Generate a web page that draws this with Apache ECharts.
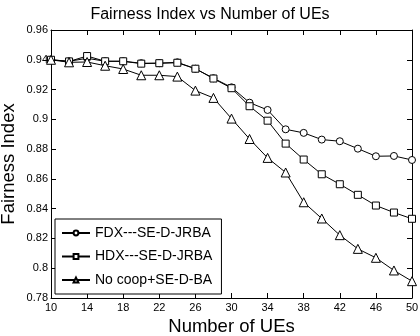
<!DOCTYPE html>
<html>
<head>
<meta charset="utf-8">
<script src="https://cdn.jsdelivr.net/npm/echarts@6/dist/echarts.min.js"></script>
<style>
  html, body { margin: 0; padding: 0; background: #fff; }
  #chart { width: 420px; height: 336px; }
</style>
</head>
<body>
<div id="chart"></div>
<script>
// number of UEs (x axis categories)
const ues = ['10','12','14','16','18','20','22','24','26','28','30','32','34','36','38','40','42','44','46','48','50']
// fairness index per scheme
const fdx = [0.940,0.939,0.941,0.939,0.939,0.9377,0.9377,0.9383,0.934,0.9276,0.9215,0.9112,0.9063,0.8933,0.8909,0.8864,0.8853,0.8803,0.8752,0.8754,0.8727]
const hdx = [0.940,0.9389,0.9425,0.939,0.939,0.9374,0.9377,0.938,0.934,0.9274,0.9209,0.9088,0.8991,0.8837,0.873,0.8631,0.8564,0.8493,0.8421,0.8374,0.8332]
const nocoop = [0.940,0.9383,0.9385,0.936,0.9338,0.9296,0.9296,0.9287,0.9193,0.9144,0.9005,0.8868,0.8741,0.8643,0.8443,0.8334,0.8222,0.813,0.807,0.7985,0.7913]
const names = ['FDX---SE-D-JRBA','HDX---SE-D-JRBA','No coop+SE-D-BA']

const font = 'Liberation Sans, Arial, sans-serif'
const chart = echarts.init(document.getElementById('chart'))

const mkSeries = (name, data, symbol, size) => ({
  name: name,
  type: 'line',
  data: data,
  symbol: symbol,
  symbolSize: size,
  lineStyle: { color: '#000', width: 1 },
  itemStyle: { color: '#fff', borderColor: '#000', borderWidth: 1 },
  animation: false
})

const axLine = { show: true, lineStyle: { color: '#000', width: 1 } }
const ticks = { show: true, inside: true, length: 5, lineStyle: { color: '#000' } }

chart.setOption({
  backgroundColor: '#fff',
  title: {
    text: 'Fairness Index vs Number of UEs',
    left: 'center',
    top: 2,
    textStyle: { fontFamily: font, fontSize: 16, fontWeight: 'normal', color: '#000' }
  },
  legend: {
    orient: 'vertical',
    left: 55,
    top: 219,
    itemWidth: 28,
    itemHeight: 6,
    itemGap: 9.5,
    padding: [7, 9, 7, 6],
    borderColor: '#000',
    borderWidth: 1,
    backgroundColor: '#fff',
    textStyle: { fontFamily: font, fontSize: 14, color: '#000' },
    data: names
  },
  grid: { left: 51, right: 8, top: 30, bottom: 38, outerBoundsMode: 'none' },
  xAxis: [
    {
      type: 'category',
      data: ues,
      boundaryGap: false,
      name: 'Number of UEs',
      nameLocation: 'middle',
      nameGap: 19,
      nameMoveOverlap: false,
      nameTextStyle: { fontFamily: font, fontSize: 18.5, color: '#000' },
      axisLine: axLine,
      axisTick: Object.assign({ interval: 1 }, ticks),
      axisLabel: { interval: 1, fontFamily: font, fontSize: 11, color: '#000', margin: 4 },
      splitLine: { show: false }
    },
    {
      type: 'category',
      data: ues,
      boundaryGap: false,
      position: 'top',
      axisLine: axLine,
      axisTick: Object.assign({ interval: 1 }, ticks),
      axisLabel: { show: false },
      splitLine: { show: false }
    }
  ],
  yAxis: [
    {
      type: 'value',
      min: 0.78,
      max: 0.96,
      interval: 0.02,
      name: 'Fairness Index',
      nameLocation: 'middle',
      nameGap: 33,
      nameMoveOverlap: false,
      nameTextStyle: { fontFamily: font, fontSize: 18.5, color: '#000' },
      axisLine: axLine,
      axisTick: ticks,
      axisLabel: {
        fontFamily: font, fontSize: 11, color: '#000', margin: 3,
        formatter: v => String(+v.toFixed(2))
      },
      splitLine: { show: false }
    },
    {
      type: 'value',
      min: 0.78,
      max: 0.96,
      interval: 0.02,
      position: 'right',
      axisLine: axLine,
      axisTick: ticks,
      axisLabel: { show: false },
      splitLine: { show: false }
    }
  ],
  series: [
    mkSeries(names[0], fdx, 'circle', 7),
    mkSeries(names[1], hdx, 'rect', 7),
    mkSeries(names[2], nocoop, 'triangle', 9)
  ]
})
</script>
</body>
</html>
